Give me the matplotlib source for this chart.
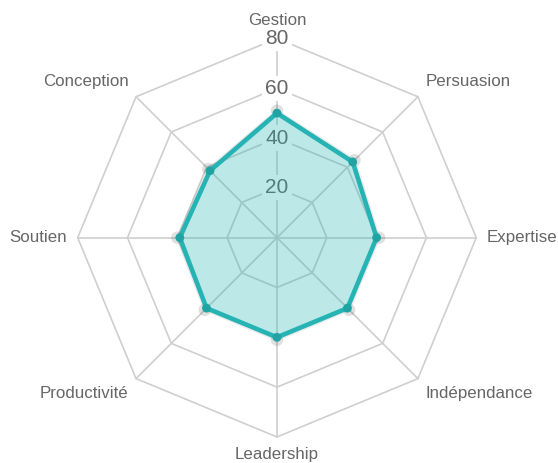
import numpy as np
import matplotlib
matplotlib.use("Agg")
import matplotlib.pyplot as plt

plt.rcParams['font.family'] = ['Liberation Sans', 'DejaVu Sans']

categories = ["Gestion", "Persuasion", "Expertise", "Indépendance",
              "Leadership", "Productivité", "Soutien", "Conception"]
scores = [50, 43, 40, 40, 40, 40, 39, 38]
shadow_scores = [51, 44, 41, 41, 41, 41, 40, 39]
tick_values = [20, 40, 60, 80]
r_max = 80

teal = '#26b3b3'
grid_c = '#cfcfcf'
text_c = '#666666'

fig = plt.figure(figsize=(5.58, 4.63), dpi=100)
ax = fig.add_axes([0.1392, 0.0562, 0.7143, 0.8609], projection='polar')
ax.set_theta_offset(np.pi / 2)
ax.set_theta_direction(-1)
ax.set_ylim(0, r_max)
ax.set_axis_off()

n = len(categories)
theta = np.arange(n) * 2 * np.pi / n
theta_c = np.append(theta, theta[0])

# polygon grid
for r in tick_values:
    ax.plot(theta_c, [r] * (n + 1), color=grid_c, lw=1.2, zorder=1, clip_on=False)
for t in theta:
    ax.plot([t, t], [0, r_max], color=grid_c, lw=1.2, zorder=1, clip_on=False)

# tick labels with backdrop
for r in tick_values:
    ax.text(0, r, str(r), ha='center', va='center', fontsize=15, color=text_c,
            zorder=2, bbox=dict(boxstyle='square,pad=0.15', fc='white', ec='none'))

# category labels
align = [('center', 'bottom'), ('left', 'bottom'), ('left', 'center'), ('left', 'top'),
         ('center', 'top'), ('right', 'top'), ('right', 'center'), ('right', 'bottom')]
for t, lab, (ha, va) in zip(theta, categories, align):
    ax.text(t, r_max * 1.052, lab, ha=ha, va=va, fontsize=12.2, color=text_c, zorder=5)

# shadow dataset
sh = np.append(shadow_scores, shadow_scores[0])
ax.plot(theta_c, sh, color=(0, 0, 0, 0.08), lw=2, zorder=3, clip_on=False)
ax.scatter(theta, shadow_scores, s=80, color=(0, 0, 0, 0.12), edgecolors='none', zorder=3, clip_on=False)

# main dataset
sc = np.append(scores, scores[0])
ax.fill(theta_c, sc, color=teal, alpha=0.3, lw=0, zorder=3)
ax.plot(theta_c, sc, color=teal, lw=3.3, zorder=4, solid_joinstyle='miter', clip_on=False)
ax.scatter(theta, scores, s=40, color='#1fa3a3', edgecolors='none', zorder=4, clip_on=False)

fig.savefig('out.png', dpi=100)
